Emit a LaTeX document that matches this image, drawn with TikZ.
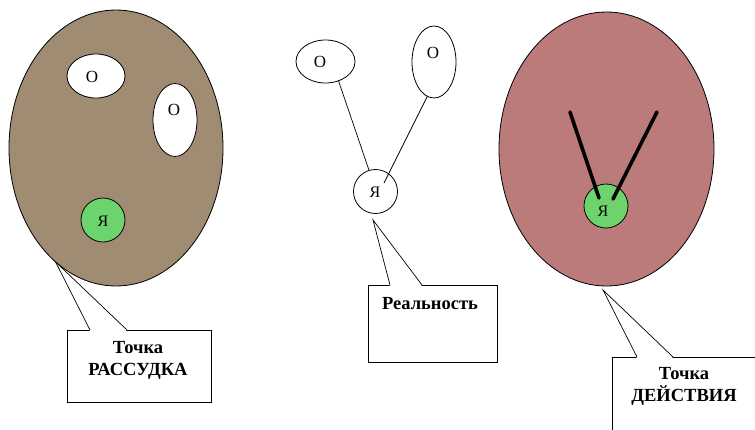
\documentclass[tikz,border=0pt]{standalone}
\usepackage{fontspec}
\setmainfont{Liberation Serif}
\usetikzlibrary{shapes.geometric,calc}
\definecolor{brownfill}{HTML}{A08C72}
\definecolor{pinkfill}{HTML}{BB7B7B}
\definecolor{greenfill}{HTML}{6DD46D}
\tikzset{
  oval/.style={ellipse, draw=black, line width=0.8pt, inner sep=0pt, outer sep=0pt},
  ego/.style={circle, draw=black, line width=0.8pt, inner sep=0pt, outer sep=0pt, minimum size=44pt},
  otext/.style={font=\fontsize{17}{19}\selectfont, inner sep=0pt},
  yatext/.style={font=\fontsize{16}{18}\selectfont, inner sep=0pt},
  labtext/.style={font=\fontsize{18.5}{22}\selectfont\bfseries, align=center, inner sep=0pt},
  callbox/.style={rectangle, draw=black, line width=0.8pt, fill=white, inner sep=0pt, outer sep=0pt},
  thin line/.style={line width=0.7pt, draw=black},
  thick line/.style={line width=3.6pt, draw=black, line cap=round},
}
\begin{document}
\begin{tikzpicture}[x=1pt,y=-1pt]
\useasboundingbox (0,0) rectangle (755,429);
\clip (0,0) rectangle (755,429);
\fill[white] (0,0) rectangle (755,429);

% ---------- left: Точка РАССУДКА ----------
\node[oval, fill=brownfill, minimum width=214pt, minimum height=276pt] (bigL) at (116,148) {};
\node[oval, fill=white, minimum width=58pt, minimum height=44pt] (lo1) at (96,76) {};
\node[oval, fill=white, minimum width=44pt, minimum height=73pt] (lo2) at (175,120) {};
\node[otext] (lo1t) at (92,77) {O};
\node[otext] (lo2t) at (174,110) {O};
\node[ego, fill=greenfill] (lya) at (103,220) {};
\node[yatext] (lyat) at (103,221) {Я};

\node[callbox, minimum width=144pt, minimum height=72pt] (boxL) at (139,366) {};
\coordinate (lb1) at (90,330);
\coordinate (lb2) at (127,330);
\fill[white] ($(lb1)+(0,1.2)$) -- (bigL.-118) -- ($(lb2)+(0,1.2)$) -- cycle;
\draw[thin line] (lb1) -- (bigL.-118) -- (lb2);
\node[labtext] (labL) at (138,360) {Точка\\РАССУДКА};

% ---------- middle: Реальность ----------
\node[oval, minimum width=59pt, minimum height=43pt] (mo1) at (325.5,61.5) {};
\node[oval, minimum width=44pt, minimum height=72pt] (mo2) at (434,62) {};
\node[otext] (mo1t) at (320,62) {O};
\node[otext] (mo2t) at (433,53) {O};
\node[ego] (mya) at (375.5,191.5) {};
\node[yatext] (myat) at (375,192) {Я};
\draw[thin line] (mo1.-56) -- (mya.107);
\draw[thin line] (mo2.-101) -- ([shift={(8.5pt,8.5pt)}]mya.center);

\node[callbox, minimum width=129pt, minimum height=77pt] (boxM) at (432.5,323.5) {};
\coordinate (mtip) at (373,220);
\coordinate (mb1) at (390,285);
\coordinate (mb2) at (422,285);
\fill[white] ($(mb1)+(0,1.2)$) -- (mtip) -- ($(mb2)+(0,1.2)$) -- cycle;
\draw[thin line] (mb1) -- (mtip) -- (mb2);
\node[labtext] (labM) at (430,304) {Реальность};

% ---------- right: Точка ДЕЙСТВИЯ ----------
\node[oval, fill=pinkfill, minimum width=215pt, minimum height=274pt] (bigR) at (606.5,149) {};
\node[ego, fill=greenfill] (rya) at (606,206) {};
\node[yatext] (ryat) at (603,211) {Я};
\coordinate (rend1) at (570,112);
\coordinate (rend2) at (657,112);
\draw[thick line] ([shift={(-7pt,8pt)}]rya.center) -- (rend1);
\draw[thick line] ([shift={(7pt,7pt)}]rya.center) -- (rend2);

\node[callbox, minimum width=170pt, minimum height=94pt] (boxR) at (697,404) {};
\coordinate (rtip) at (603,290);
\coordinate (rb1) at (637,357);
\coordinate (rb2) at (673,357);
\fill[white] ($(rb1)+(0,1.2)$) -- (rtip) -- ($(rb2)+(0,1.2)$) -- cycle;
\draw[thin line] (rb1) -- (rtip) -- (rb2);
\node[labtext] (labR) at (684,386) {Точка\\ДЕЙСТВИЯ};
\end{tikzpicture}
\end{document}
